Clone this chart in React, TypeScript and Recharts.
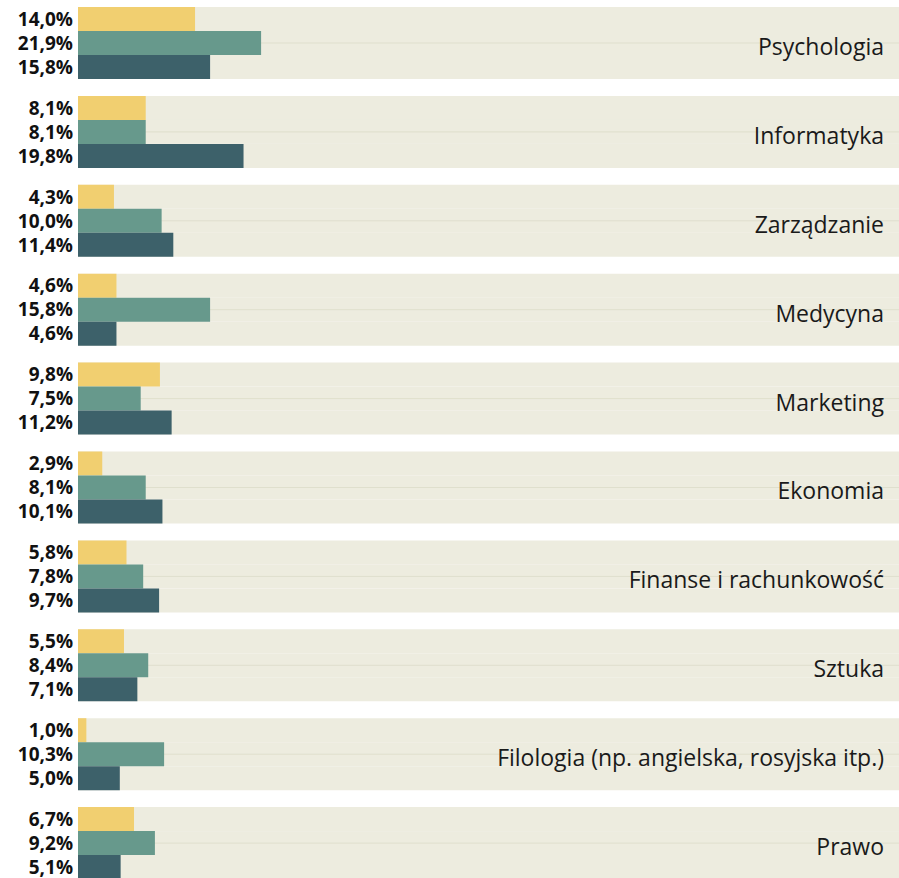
import { BarChart, Bar, XAxis, YAxis, LabelList } from 'recharts'

const categories = [
  'Psychologia',
  'Informatyka',
  'Zarządzanie',
  'Medycyna',
  'Marketing',
  'Ekonomia',
  'Finanse i rachunkowość',
  'Sztuka',
  'Filologia (np. angielska, rosyjska itp.)',
  'Prawo',
]

const yellowValues = [14.0, 8.1, 4.3, 4.6, 9.8, 2.9, 5.8, 5.5, 1.0, 6.7]
const greenValues = [21.9, 8.1, 10.0, 15.8, 7.5, 8.1, 7.8, 8.4, 10.3, 9.2]
const darkValues = [15.8, 19.8, 11.4, 4.6, 11.2, 10.1, 9.7, 7.1, 5.0, 5.1]

const data = categories.map((name, i) => ({
  name,
  a: yellowValues[i],
  b: greenValues[i],
  c: darkValues[i],
}))

const BAND = '#edecdf'
const fmt = (v: any) => `${Number(v).toFixed(1).replace('.', ',')}%`

const labelProps = {
  position: 'left' as const,
  offset: 5,
  formatter: fmt,
  fill: '#111111',
  fontSize: 19,
  fontWeight: 700,
  fontFamily: '"Open Sans", sans-serif',
}

// middle bar's background also carries the faint centre line
const bandWithLine = (props: any) => {
  const { x, y, width, height } = props
  const cy = y + height / 2
  return (
    <g>
      <rect x={x} y={y} width={width} height={height} fill={BAND} />
      <line x1={x} x2={x + width} y1={cy} y2={cy} stroke="#dfdfcd" strokeWidth={1} />
    </g>
  )
}

const CategoryTick = (props: any) => {
  const { x, y, payload } = props
  return (
    <text
      x={x}
      y={y}
      dy={11.5}
      textAnchor="end"
      fill="#1a1a1a"
      fontSize={23}
      fontFamily='"Open Sans", sans-serif'
    >
      {payload.value}
    </text>
  )
}

export default function App() {
  return (
    <div
      style={{
        position: 'fixed',
        left: 0,
        top: 0,
        width: 899,
        height: 878,
        overflow: 'hidden',
        background: '#ffffff',
      }}
    >
      <div style={{ position: 'absolute', left: 0, top: -1.5 }}>
        <BarChart
          width={899}
          height={889}
          data={data}
          layout="vertical"
          margin={{ top: 0, right: 0, bottom: 0, left: 78 }}
          barSize={24}
          barGap={0}
        >
          <XAxis type="number" hide domain={[0, 98.2]} />
          <YAxis
            type="category"
            dataKey="name"
            orientation="right"
            mirror
            axisLine={false}
            tickLine={false}
            tickSize={0}
            tickMargin={15}
            tick={<CategoryTick />}
            interval={0}
          />
          <Bar dataKey="a" fill="#f1cf70" background={{ fill: BAND }} isAnimationActive={false}>
            <LabelList dataKey="a" {...labelProps} />
          </Bar>
          <Bar dataKey="b" fill="#67998c" background={bandWithLine} isAnimationActive={false}>
            <LabelList dataKey="b" {...labelProps} />
          </Bar>
          <Bar dataKey="c" fill="#3d616a" background={{ fill: BAND }} isAnimationActive={false}>
            <LabelList dataKey="c" {...labelProps} />
          </Bar>
        </BarChart>
      </div>
    </div>
  )
}
